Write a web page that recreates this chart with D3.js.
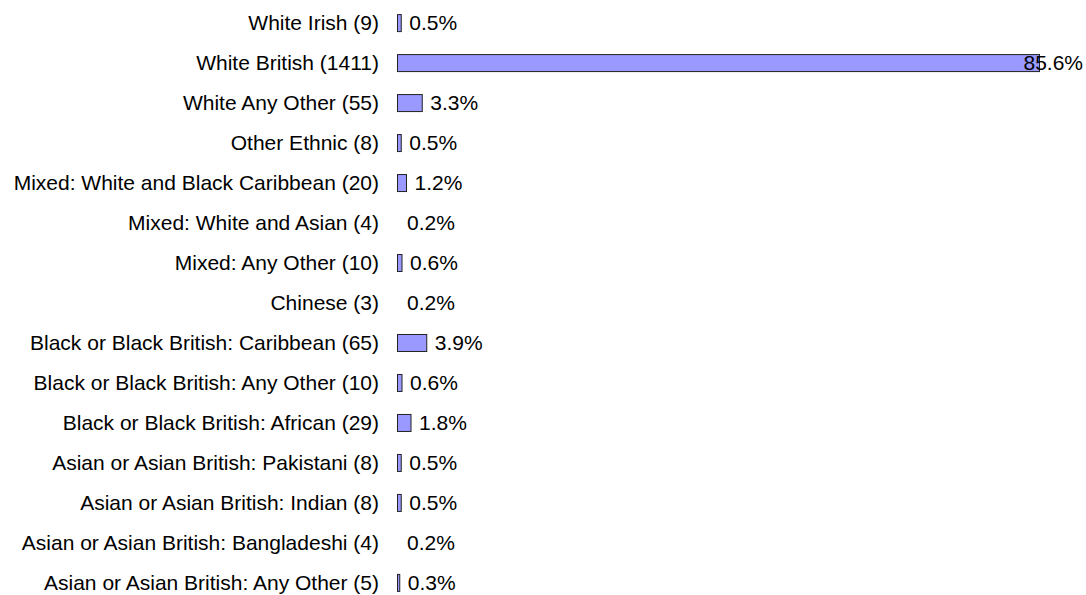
<!DOCTYPE html>
<html><head><meta charset="utf-8">
<script src="https://cdn.jsdelivr.net/npm/d3@7"></script>
<style>body{margin:0;background:#fff;}svg{display:block;}</style>
</head><body>
<script>
const categories = [
  "White Irish (9)",
  "White British (1411)",
  "White Any Other (55)",
  "Other Ethnic (8)",
  "Mixed: White and Black Caribbean (20)",
  "Mixed: White and Asian (4)",
  "Mixed: Any Other (10)",
  "Chinese (3)",
  "Black or Black British: Caribbean (65)",
  "Black or Black British: Any Other (10)",
  "Black or Black British: African (29)",
  "Asian or Asian British: Pakistani (8)",
  "Asian or Asian British: Indian (8)",
  "Asian or Asian British: Bangladeshi (4)",
  "Asian or Asian British: Any Other (5)"
];
const percentages = [0.5, 85.6, 3.3, 0.5, 1.2, 0.2, 0.6, 0.2, 3.9, 0.6, 1.8, 0.5, 0.5, 0.2, 0.3];

const W = 1086, H = 595;
const svg = d3.select("body").append("svg").attr("width", W).attr("height", H);
const font = "Liberation Sans, Arial, sans-serif";
const fs = 21;

const x = d3.scaleLinear().domain([0, 85.6]).range([397.5, 1039.5]);
const y = d3.scaleBand().domain(categories).range([3, 603]).paddingInner(0.575).paddingOuter(0.29);

const rows = categories.map((c, i) => ({c, v: percentages[i]}));

svg.selectAll("text.cat").data(rows).join("text")
  .attr("class", "cat")
  .attr("x", 379)
  .attr("y", d => y(d.c) + y.bandwidth() / 2)
  .attr("dy", "0.35em")
  .attr("text-anchor", "end")
  .attr("font-family", font)
  .attr("font-size", fs)
  .attr("fill", "#000")
  .text(d => d.c);

svg.selectAll("rect.bar").data(rows.filter(d => x(d.v) - x(0) >= 2)).join("rect")
  .attr("class", "bar")
  .attr("x", x(0))
  .attr("y", d => y(d.c))
  .attr("width", d => x(d.v) - x(0))
  .attr("height", y.bandwidth())
  .attr("fill", "#9999ff")
  .attr("stroke", "#222")
  .attr("stroke-width", 1);

const vl = svg.selectAll("text.val").data(rows).join("text")
  .attr("class", "val")
  .attr("y", d => y(d.c) + y.bandwidth() / 2)
  .attr("dy", "0.35em")
  .attr("font-family", font)
  .attr("font-size", fs)
  .attr("fill", "#000")
  .text(d => d.v.toFixed(1) + "%");
vl.each(function(d) {
  const w = this.getComputedTextLength();
  const px = Math.min(x(d.v) + 8, W - 3 - w);
  d3.select(this).attr("x", px);
});
</script>
</body></html>
